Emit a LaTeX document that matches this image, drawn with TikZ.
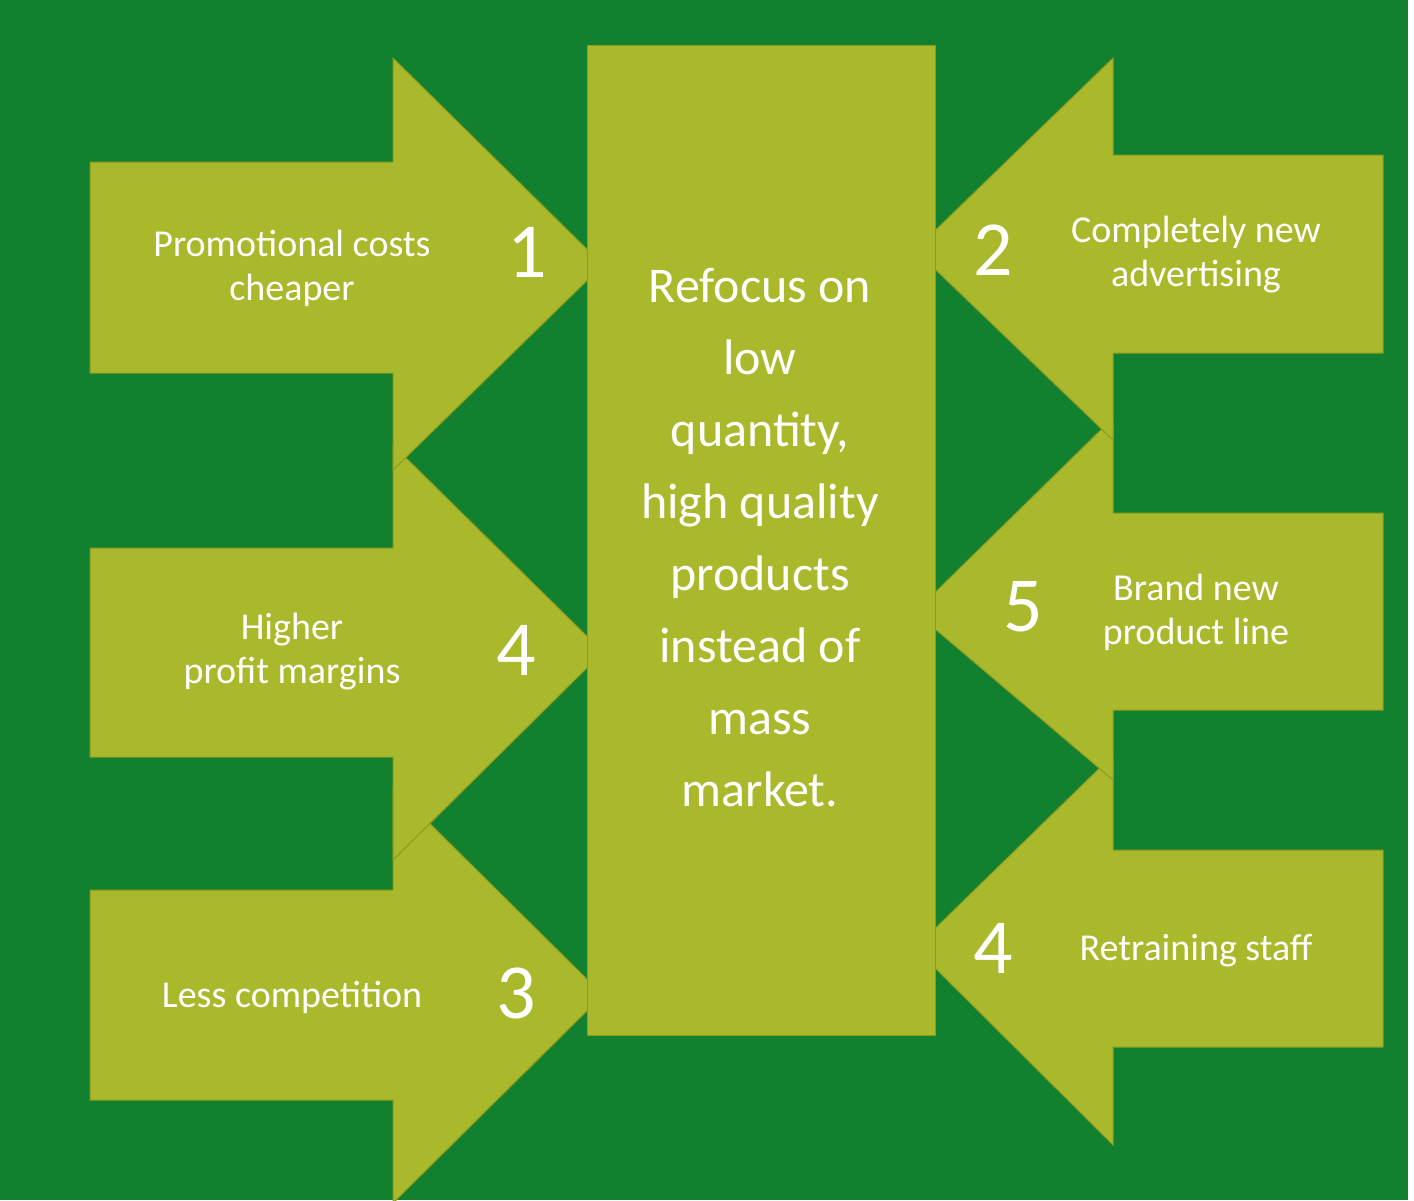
\documentclass[tikz,border=0pt]{standalone}
\usepackage{fontspec}
\setmainfont{Carlito}
\definecolor{bg}{HTML}{11802F}
\definecolor{ar}{HTML}{A9B92B}
\definecolor{ed}{HTML}{8E9A1E}
\begin{document}
\begin{tikzpicture}[x=1pt,y=-1pt,
  arr/.style={fill=ar,draw=ed,line width=1pt},
  lab/.style={text=white,font=\fontsize{38}{44}\selectfont,align=center},
  num/.style={text=white,font=\fontsize{78}{80}\selectfont}]
\fill[bg] (0,0) rectangle (1408,1200);
\fill[white] (1408,0) rectangle (1414,1200);
\useasboundingbox (0,0) rectangle (1414,1200);
% left arrows
\draw[arr] (90,890)--(393,890)--(393,787)--(603,995)--(393,1203)--(393,1100)--(90,1100)--cycle;
\draw[arr] (90,548)--(393,548)--(393,445)--(603,652)--(393,860)--(393,757)--(90,757)--cycle;
\draw[arr] (90,162)--(393,162)--(393,58)--(603,265)--(393,470)--(393,373)--(90,373)--cycle;
% right arrows
\draw[arr] (1383,850)--(1113,850)--(1113,755)--(915,948)--(1113,1145)--(1113,1047)--(1383,1047)--cycle;
\draw[arr] (1383,513)--(1113,513)--(1113,418)--(915,612)--(1113,780)--(1113,710)--(1383,710)--cycle;
\draw[arr] (1383,155)--(1113,155)--(1113,58)--(915,250)--(1113,440)--(1113,353)--(1383,353)--cycle;
\draw[arr] (587,45) rectangle (935,1035);
\node[lab,font=\fontsize{50}{72}\selectfont] (c) at (760,538) {Refocus on\\low\\quantity,\\high quality\\products\\instead of\\mass\\market.};
\node[lab] (t1) at (292,268) {Promotional costs\\cheaper};
\node[num] (n1) at (527,252) {1};
\node[lab] (t4) at (292,652) {Higher\\profit margins};
\node[num] (n4) at (516,650) {4};
\node[lab] (t3) at (292,997) {Less competition};
\node[num] (n3) at (516,993) {3};
\node[lab] (t2) at (1196,255) {Completely new\\advertising};
\node[num] (n2) at (993,250) {2};
\node[lab] (t5) at (1196,612) {Brand new\\product line};
\node[num] (n5) at (1023,607) {5};
\node[lab] (t6) at (1196,951) {Retraining staff};
\node[num] (n6) at (993,948) {4};
\end{tikzpicture}
\end{document}
